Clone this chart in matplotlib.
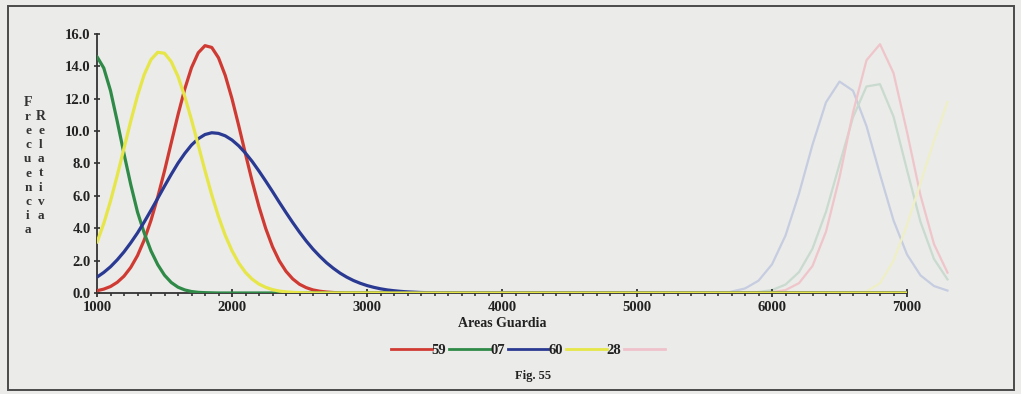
import numpy as np
import matplotlib
matplotlib.use("Agg")
import matplotlib.pyplot as plt
from matplotlib.ticker import MultipleLocator, FormatStrFormatter
from matplotlib.lines import Line2D
from matplotlib.patches import Rectangle

plt.rcParams['font.family'] = ['Liberation Serif', 'DejaVu Serif']

# x positions of the readings (Areas Guardia), every 50 units, plus the end of the axis
x_main = list(np.arange(1000, 3550, 50)) + [7000]

# relative frequency
red_59 = [0.14, 0.24, 0.40, 0.66, 1.04, 1.58, 2.31, 3.28, 4.49, 5.93,
          7.54, 9.28, 11.01, 12.60, 13.92, 14.84, 15.28, 15.17, 14.53, 13.44,
          12.00, 10.33, 8.58, 6.88, 5.33, 3.98, 2.86, 1.99, 1.34, 0.87,
          0.54, 0.33, 0.19, 0.11, 0.06, 0.03, 0.01] + [0.0] * 14 + [0.0]
green_07 = [14.6, 13.9, 12.5, 10.6, 8.6, 6.7, 5.0, 3.7, 2.6, 1.75,
            1.1, 0.65, 0.36, 0.19, 0.09, 0.04, 0.02, 0.01] + [0.0] * 33 + [0.0]
blue_60 = [0.98, 1.27, 1.62, 2.05, 2.54, 3.10, 3.71, 4.39, 5.11, 5.85,
           6.60, 7.33, 8.02, 8.62, 9.14, 9.53, 9.79, 9.90, 9.86, 9.71,
           9.45, 9.09, 8.64, 8.12, 7.53, 6.91, 6.27, 5.61, 4.97, 4.35,
           3.76, 3.21, 2.71, 2.27, 1.87, 1.53, 1.23, 0.98, 0.77, 0.60,
           0.46, 0.35, 0.26, 0.19, 0.14, 0.10, 0.07, 0.05, 0.03, 0.02,
           0.01] + [0.0]
yellow_28 = [3.13, 4.29, 5.68, 7.26, 8.94, 10.62, 12.19, 13.50, 14.42, 14.87,
             14.81, 14.29, 13.38, 12.14, 10.70, 9.14, 7.56, 6.06, 4.72, 3.56,
             2.61, 1.85, 1.27, 0.85, 0.55, 0.35, 0.21, 0.12, 0.07, 0.04,
             0.02, 0.01] + [0.0] * 19 + [0.0]

# faint curves showing through from the other side of the page
x_faint = list(np.arange(5700, 7400, 100))
faint_blue = [0.09, 0.28, 0.76, 1.77, 3.55, 6.14, 9.16, 11.78, 13.06, 12.50,
              10.31, 7.33, 4.49, 2.38, 1.09, 0.43, 0.15]
faint_green = [0.0, 0.01, 0.06, 0.18, 0.52, 1.29, 2.74, 5.02, 7.95, 10.85,
               12.76, 12.9, 10.9, 7.6, 4.39, 2.10, 0.84]
faint_red = [0.0, 0.0, 0.01, 0.05, 0.18, 0.61, 1.67, 3.79, 7.14, 11.15,
             14.38, 15.37, 13.59, 9.95, 6.03, 3.02, 1.26]
faint_yellow = [0.0] * 10 + [0.1, 0.6, 2.0, 4.2, 6.8, 9.4, 11.8]

series_labels = ['59', '07', '60', '28']
series_colors = ['#cf3b33', '#2f8a48', '#2a3a92', '#e6e648']

W, H = 1021, 394
fig = plt.figure(figsize=(W / 100, H / 100), dpi=100, facecolor='#ebebe9')
ax = fig.add_axes([97 / W, 1 - 293 / H, 810 / W, 259 / H])
ax.set_facecolor('none')

# frame around the figure
fig.patches.append(Rectangle((8 / W, 4 / H), 1006 / W, 384 / H, transform=fig.transFigure,
                             fill=False, edgecolor='#4a4a4a', linewidth=1.4))

for xs, ys, c in [(x_faint, faint_blue, '#c6cde0'), (x_faint, faint_green, '#c9dacf'),
                  (x_faint, faint_red, '#efc5ca'), (x_faint, faint_yellow, '#efefc6')]:
    ax.plot(xs, ys, color=c, lw=1.6, clip_on=False, zorder=1)

for ys, c in zip([red_59, green_07, blue_60, yellow_28], series_colors):
    ax.plot(x_main, ys, color=c, lw=2.3, solid_capstyle='round', zorder=3)

ax.set_xlim(1000, 7000)
ax.set_ylim(0, 16)
for s in ['top', 'right']:
    ax.spines[s].set_visible(False)
for s in ['left', 'bottom']:
    ax.spines[s].set_color('#333333')
    ax.spines[s].set_linewidth(1.3)

ax.xaxis.set_major_locator(MultipleLocator(1000))
ax.xaxis.set_minor_locator(MultipleLocator(100))
ax.yaxis.set_major_locator(MultipleLocator(2))
ax.yaxis.set_major_formatter(FormatStrFormatter('%.1f'))
ax.tick_params(axis='x', which='major', direction='inout', length=6, width=1.3,
               color='#333333', pad=3, labelsize=10.5, labelcolor='#222222')
ax.tick_params(axis='x', which='minor', direction='out', length=2.5, width=1.3, color='#444444')
ax.tick_params(axis='y', direction='inout', length=5, width=1.2, color='#333333',
               pad=2, labelsize=10.5, labelcolor='#222222')
for lab in ax.get_xticklabels() + ax.get_yticklabels():
    lab.set_fontweight('bold')

ax.set_xlabel('Areas Guardia', fontsize=10, fontweight='bold', color='#222222', labelpad=2)

# stacked y label
for i, ch in enumerate('Frecuencia'):
    fig.text(28 / W, 1 - (103 + 14.1 * i) / H, ch, fontsize=10 if i == 0 else 9.5,
             fontweight='bold', color='#333333', ha='center', va='center')
for i, ch in enumerate('Relativa'):
    fig.text(41 / W, 1 - (117 + 14.1 * i) / H, ch, fontsize=10 if i == 0 else 9.5,
             fontweight='bold', color='#333333', ha='center', va='center')

handles = [Line2D([], [], color=c, lw=2) for c in series_colors]
handles.append(Line2D([], [], color='#efc2cb', lw=2))
leg = fig.legend(handles, series_labels + [''], loc='center', ncol=5,
                 bbox_to_anchor=(528 / W, 1 - 350 / H), frameon=False,
                 handlelength=2.8, handletextpad=0.0, columnspacing=0.2,
                 prop={'size': 10.5, 'weight': 'bold'})
for t in leg.get_texts():
    t.set_color('#222222')

fig.text(533 / W, 1 - 376 / H, 'Fig. 55', fontsize=9, fontweight='bold',
         color='#222222', ha='center', va='center')

fig.savefig('out.png', dpi=100, facecolor=fig.get_facecolor())
